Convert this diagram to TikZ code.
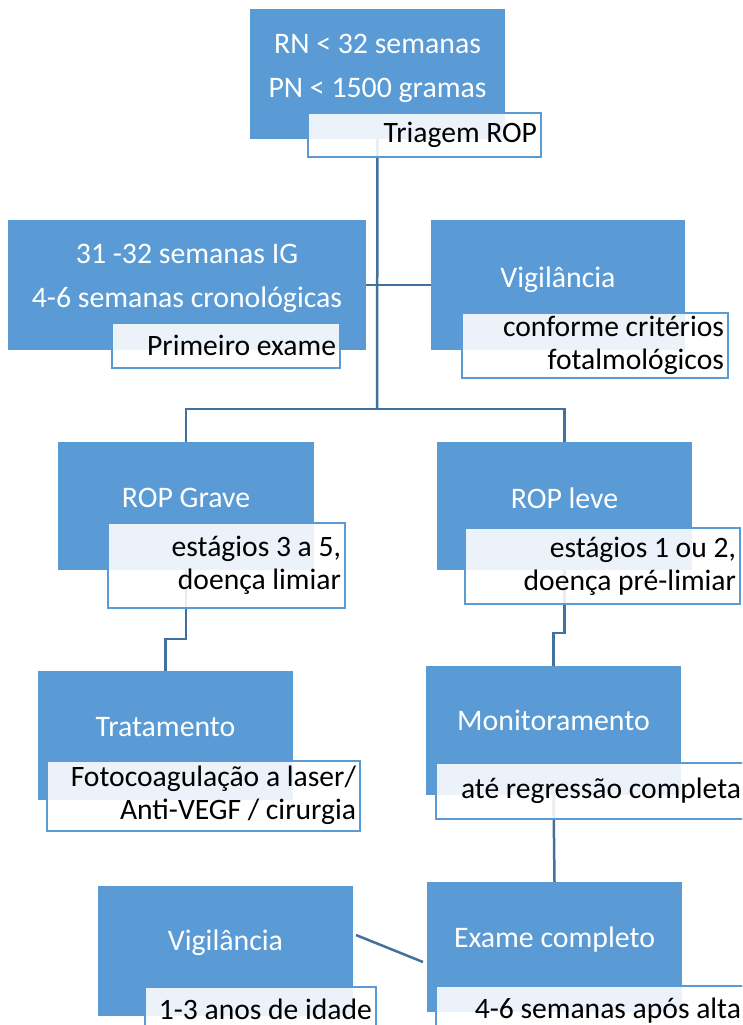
\documentclass[tikz,border=0pt]{standalone}
\usepackage{fontspec}
\setmainfont{Carlito}
\usetikzlibrary{calc}

\definecolor{boxblue}{HTML}{5B9BD5}
\definecolor{linkblue}{HTML}{41719C}
\newcommand{\headfont}{\fontsize{29.8}{44}\selectfont}
\newcommand{\subfont}{\fontsize{29.6}{33}\selectfont}

\tikzset{
  bluebox/.style 2 args={rectangle, fill=boxblue, minimum width=#1pt, minimum height=#2pt},
  subboxbase/.style={rectangle, draw=boxblue, line width=2pt, fill=white, fill opacity=0.88,
    text opacity=1, align=flush right, font=\subfont},
  subbox/.code 2 args={\pgfmathsetlengthmacro\subtw{#1pt-8pt}%
    \tikzset{subboxbase, minimum width=#1pt, minimum height=#2pt, text width=\subtw}},
  headtext/.style={text=white, align=center, font=\headfont},
  link/.style={draw=linkblue, line width=2.5pt},
}

\begin{document}
\begin{tikzpicture}[y=1pt, x=1pt, yscale=-1, inner sep=0pt, outer sep=0pt]
  \path[use as bounding box, clip] (0,0) rectangle (742,1025);

  % blue boxes
  \node[bluebox={255}{130}] (triagem) at (377.5,74) {};
  \node[bluebox={358}{130}] (primeiro) at (187,285) {};
  \node[bluebox={254}{130}] (vigil) at (558,285) {};
  \node[bluebox={256}{128}] (grave) at (186,506) {};
  \node[bluebox={255}{128}] (leve) at (564.5,506) {};
  \node[bluebox={255}{129}] (trat) at (165.5,735.5) {};
  \node[bluebox={255}{129}] (monit) at (553.5,730.5) {};
  \node[bluebox={255}{130}] (vigilb) at (225.5,951) {};
  \node[bluebox={255}{130}] (exame) at (554.5,947) {};

  \node[headtext] (triagem-t) at ($(triagem.center)+(0,-6)$) {RN < 32 semanas\\PN < 1500 gramas};
  \node[headtext] (primeiro-t) at ($(primeiro.center)+(0,-7)$) {31 -32 semanas IG\\4-6 semanas cronológicas};
  \node[headtext] (vigil-t) at ($(vigil.center)+(0,-5)$) {Vigilância};
  \node[headtext] (grave-t) at ($(grave.center)+(0,-8)$) {ROP Grave};
  \node[headtext] (leve-t) at ($(leve.center)+(0,-8)$) {ROP leve};
  \node[headtext] (trat-t) at ($(trat.center)+(0,-8)$) {Tratamento};
  \node[headtext] (monit-t) at ($(monit.center)+(0,-10)$) {Monitoramento};
  \node[headtext] (vigilb-t) at ($(vigilb.center)+(0,-8)$) {Vigilância};
  \node[headtext] (exame-t) at ($(exame.center)+(0,-7)$) {Exame completo};

  % connectors
  \coordinate (split) at (377,409);
  \draw[link] (triagem.south) -- (split);
  \draw[link] (primeiro.east) -- (vigil.west);
  \draw[link] (grave.north) |- (split) -| (leve.north);
  \draw[link] (grave.south) -- ++(0,69) -| (trat.north);
  \draw[link] (leve.south) -- ++(0,63) -| (monit.north);
  \draw[link] (monit.south) -- (exame.north);
  \draw[link] ($(vigilb.east)+(3,-16)$) -- ($(exame.west)+(-4,15)$);

  % white boxes
  \node[subbox={233}{44}] (triagem-s) at (424.5,135) {Triagem ROP};
  \node[subbox={228}{45}] (primeiro-s) at (226,345.5) {Primeiro exame};
  \node[subbox={266}{65}] (vigil-s) at (595,345.5) {conforme critérios\\fotalmológicos};
  \node[subbox={237}{85}] (grave-s) at (226.5,565) {estágios 3 a 5,\\doença limiar};
  \node[subbox={275}{76}] (leve-s) at (602.5,566) {estágios 1 ou 2,\\doença pré-limiar};
  \node[subbox={313}{70}] (trat-s) at (203.5,795.5) {Fotocoagulação a laser/\\Anti-VEGF / cirurgia};
  \node[subbox={309}{56}] (monit-s) at (590.5,791) {até regressão completa};
  \node[subbox={231}{45}] (vigilb-s) at (260.5,1009) {1-3 anos de idade};
  \node[subbox={309}{51}] (exame-s) at (590.5,1011) {4-6 semanas após alta};
\end{tikzpicture}
\end{document}
